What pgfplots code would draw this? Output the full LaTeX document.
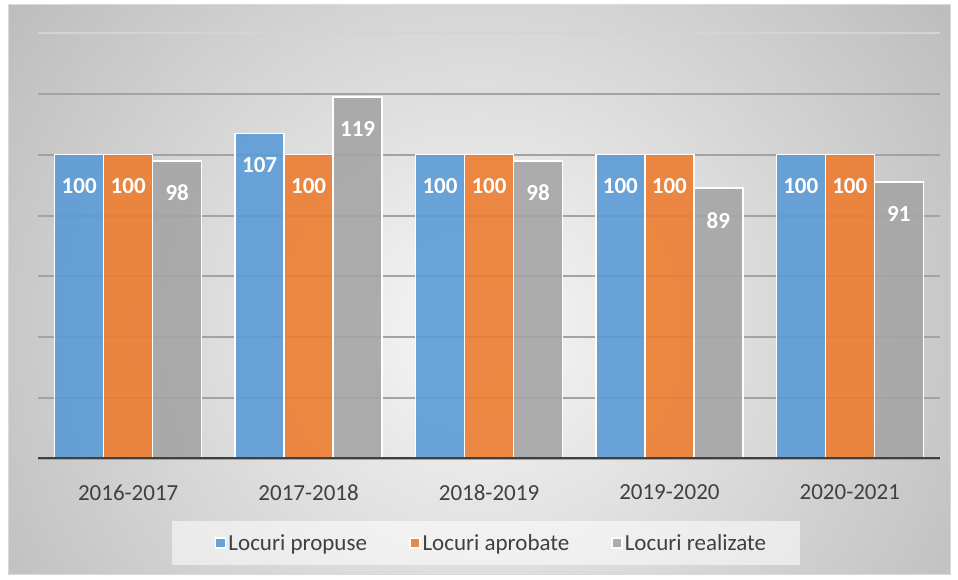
\documentclass[border=0pt]{standalone}
\usepackage{fontspec}
\setmainfont{Carlito}
\usepackage{pgfplots}
\pgfplotsset{compat=1.18}
\definecolor{cblue}{HTML}{5B9BD5}
\definecolor{corange}{HTML}{ED7D31}
\definecolor{cgray}{HTML}{A5A5A5}
\definecolor{ctext}{HTML}{404040}
\begin{document}
\begin{tikzpicture}[x=1pt,y=1pt]
\useasboundingbox (0,0) rectangle (958,580);
\fill[white] (0,0) rectangle (958,580);
\begin{scope}
\clip (8,5) rectangle (950,575);
\shade[inner color=white!97!black, outer color=black!26] (479,250) ellipse (580 and 560);
\end{scope}
\draw[black!15, line width=1pt] (8,5) rectangle (950,575);
\fill[white, opacity=0.55] (172,15) rectangle (800,59);
\begin{axis}[at={(38pt,121pt)}, anchor=south west, scale only axis,
  width=902pt, height=426pt,
  /pgf/number format/assume math mode=true,
  xmin=-0.5, xmax=4.5, ymin=0, ymax=140,
  xtick={0,1,2,3,4},
  xticklabels={2016-2017,2017-2018,2018-2019,2019-2020,2020-2021},
  xticklabel style={font=\fontsize{23}{27}\selectfont, text=ctext, yshift=-22pt},
  ytick={0,20,...,120}, yticklabels={},
  major tick length=0pt,
  ymajorgrids, grid style={color=black!36, line width=2pt},
  extra y ticks={140}, extra y tick labels={},
  extra y tick style={grid style={color=black!17, line width=2pt}},
  axis line style={draw=none},
  ybar=0pt, bar width=49pt,
  nodes near coords,
  every node near coord/.append style={font=\fontsize{23}{27}\selectfont\bfseries, text=white, text opacity=1, anchor=north, yshift=-20pt},
  legend columns=3,
  legend style={at={(0.5028,-0.197)}, anchor=center, draw=none, fill=none,
    font=\fontsize{23}{27}\selectfont, text=ctext, text opacity=1,
    /tikz/every even column/.append style={column sep=40pt}},
  legend image code/.code={\fill[#1] (0pt,-5pt) rectangle (10pt,5pt);},
]
\addplot[fill=cblue, draw=white, line width=1.5pt, fill opacity=0.9] coordinates {(0,100) (1,107) (2,100) (3,100) (4,100)};
\addplot[fill=corange, draw=white, line width=1.5pt, fill opacity=0.9] coordinates {(0,100) (1,100) (2,100) (3,100) (4,100)};
\addplot[fill=cgray, draw=white, line width=1.5pt, fill opacity=0.9] coordinates {(0,98) (1,119) (2,98) (3,89) (4,91)};
\legend{Locuri propuse, Locuri aprobate, Locuri realizate}
\draw[ctext, line width=4pt] (axis cs:-0.5,0) -- (axis cs:4.5,0);
\end{axis}
\end{tikzpicture}
\end{document}
